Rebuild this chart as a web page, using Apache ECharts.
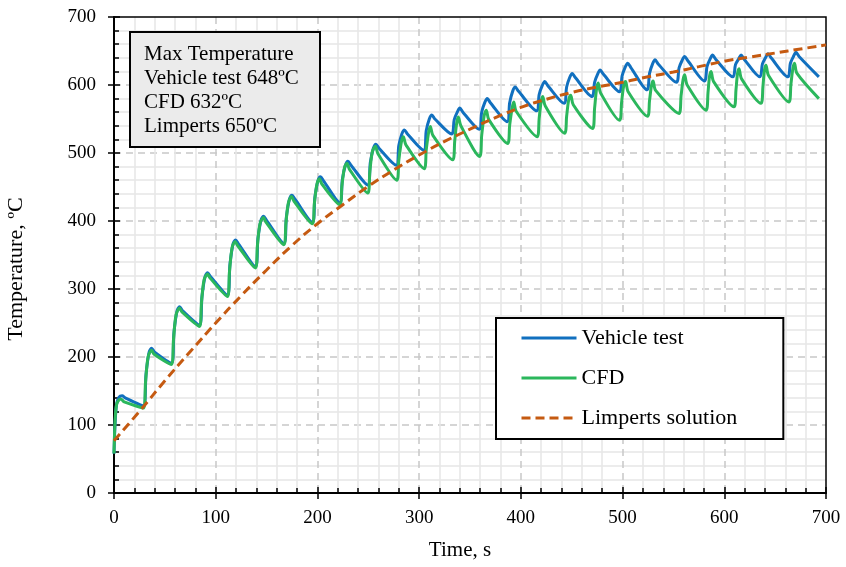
<!DOCTYPE html>
<html>
<head>
<meta charset="utf-8">
<script src="https://cdn.jsdelivr.net/npm/echarts@6/dist/echarts.min.js"></script>
<style>html,body{margin:0;padding:0;background:#fff;}#chart{width:846px;height:567px;}</style>
</head>
<body>
<div id="chart"></div>
<script>
// ---- Data ----
var vehicleTime = [0,1,2.5,5,8,11,
  29,31.5,34.5,37,40,
  56.5,59,62,64.5,67.5,
  84,86.5,89.5,92,95,
  111.5,114,117,119.5,122.5,
  139,141.5,144.5,147,150,
  167,169.5,172.5,175,178,
  195,197.5,200.5,203,206,
  222,224.5,227.5,230,233,
  249.5,252,255,257.5,260.5,
  277.5,280,283,285.5,288.5,
  304.5,307,310,312.5,315.5,
  332,334.5,337.5,340,343,
  359,361.5,364.5,367,370,
  386.5,389,392,394.5,397.5,
  415.5,418,421,423.5,426.5,
  442.5,445,448,450.5,453.5,
  470,472.5,475.5,478,481,
  497,499.5,502.5,505,508,
  524,526.5,529.5,532,535,
  553,555.5,558.5,561,564,
  580.5,583,586,588.5,591.5,
  608.5,611,614,616.5,619.5,
  635,637.5,640.5,643,646,
  662.5,665,668,670.5,673.5,
  693];
var vehicleTemp = [58,100,130,141,143,140,
  128,175,207,213,207,
  191,237,268,274,268,
  247,289,318,324,318,
  291,336,366,372,366,
  333,374,401,407,401,
  367,406,432,438,432,
  398,435,459,465,459,
  427,461,482,488,482,
  453,486,507,513,507,
  482,511,528,534,528,
  504,533,550,556,550,
  528,549,560,566,560,
  535,560,574,580,574,
  546,574,591,597,591,
  562,586,599,605,599,
  573,597,611,617,611,
  583,604,616,622,616,
  590,613,626,632,626,
  593,617,631,637,631,
  604,625,636,642,636,
  606,627,638,644,638,
  612,630,638,644,638,
  612,631,640,646,640,
  612,632,642,648,642,
  612];

var cfdTime = [0,1,2.5,5,7,10,
  29,31,33.5,37,39.5,
  56.5,58.5,61,64.5,67,
  84,86,88.5,92,94.5,
  111.5,113.5,116,119,121.5,
  139,141,143.5,147,149.5,
  167,169,171.5,174.5,177,
  195,197,199.5,202,204.5,
  222,224,226.5,229,231.5,
  249.5,251.5,254,257,259.5,
  278,280,282.5,284.5,287,
  305,307,309.5,311,313.5,
  333,335,337,338.5,341,
  359.5,361.5,364,366,368.5,
  387,389,391.5,393,395.5,
  416,418,420,421.5,424,
  443,445,447,449,451.5,
  470.5,472.5,474.5,476,478.5,
  497,499,501,503,505.5,
  524.5,526.5,528.5,530,532.5,
  555.5,557.5,559.5,561,563.5,
  582,584,585.5,587,589.5,
  609.5,611.5,613,614.5,617,
  636,638,639.5,641,643.5,
  663.5,665.5,667.5,669,671.5,
  693];
var cfdTemp = [58,105,130,137,138,134,
  125,163,200,210,204,
  189,226,262,272,266,
  245,280,313,322,316,
  289,325,360,370,364,
  331,364,396,405,398,
  365,397,427,436,429,
  396,426,454,462,454,
  424,451,478,485,476,
  441,472,502,510,499,
  460,489,516,524,512,
  477,505,532,539,526,
  490,518,545,553,540,
  495,526,555,563,549,
  514,541,567,575,561,
  524,551,576,583,569,
  529,554,578,585,571,
  536,566,595,603,588,
  548,574,598,605,590,
  554,577,600,606,592,
  558,584,608,615,600,
  563,589,613,620,605,
  568,593,617,624,609,
  573,598,622,629,614,
  575,601,625,632,617,
  580];

var limpertsTime = [0,25,50,75,100,125,150,175,200,225,250,275,300,325,350,375,400,425,450,475,500,525,550,575,600,625,650,675,700];
var limpertsTemp = [77,120,165,208,250,290,328,364,396,424,451,475,497,517,535,552,567,579,589,597,604,612,619,627,635,641,647,653,659];

var xTicks = [0,100,200,300,400,500,600,700];
var yTicks = [0,100,200,300,400,500,600,700];

var seriesNames = ['Vehicle test','CFD','Limperts solution'];
var noteLines = ['Max Temperature','Vehicle test 648\u00BAC','CFD 632\u00BAC','Limperts 650\u00BAC'];

function pairs(xs, ys){ var out=[]; for(var i=0;i<xs.length;i++){ out.push([xs[i], ys[i]]); } return out; }

var FONT = '"Liberation Serif", "Times New Roman", serif';
var chart = echarts.init(document.getElementById('chart'), null, {renderer:'canvas'});

var xMin = xTicks[0], xMax = xTicks[xTicks.length-1], xStep = xTicks[1]-xTicks[0];
var yMin = yTicks[0], yMax = yTicks[yTicks.length-1], yStep = yTicks[1]-yTicks[0];

var majorGrid = { show: true, showMinLine: false, showMaxLine: false, lineStyle: { color: '#c8c8c8', width: 1.5, type: [7,5] } };
var minorGrid = { show: true, lineStyle: { color: '#e6e6e6', width: 1.5 } };

var option = {
  animation: false,
  backgroundColor: '#fff',
  grid: { left: 114, right: 20, top: 17, bottom: 74, containLabel: false, outerBoundsMode: 'none',
          show: true, borderColor: '#000', borderWidth: 1.5, backgroundColor: 'transparent', z: 3 },
  xAxis: [{
    type: 'value', min: xMin, max: xMax, interval: xStep,
    name: 'Time, s', nameLocation: 'middle', nameGap: 47,
    nameTextStyle: { fontFamily: FONT, fontSize: 21, color: '#000', padding: [0, 20, 0, 0] },
    axisLine: { show: true, lineStyle: { color: '#000', width: 2 } },
    axisTick: { show: true, inside: true, length: 6, lineStyle: { color: '#000', width: 1.5 } },
    minorTick: { show: true, splitNumber: 5, length: 5, lineStyle: { color: '#000', width: 1.5 } },
    axisLabel: { fontFamily: FONT, fontSize: 19, color: '#000', margin: 16 },
    splitLine: majorGrid,
    minorSplitLine: minorGrid
  },{
    type: 'value', min: xMin, max: xMax, interval: xStep, position: 'bottom',
    axisLine: { show: false },
    axisTick: { show: true, inside: false, length: 6, lineStyle: { color: '#000', width: 1.5 } },
    axisLabel: { show: false }, splitLine: { show: false }
  }],
  yAxis: [{
    type: 'value', min: yMin, max: yMax, interval: yStep,
    name: 'Temperature, \u00BAC', nameLocation: 'middle', nameGap: 87, nameRotate: 90,
    nameTextStyle: { fontFamily: FONT, fontSize: 22, color: '#000', padding: [0, 28, 0, 0] },
    axisLine: { show: true, lineStyle: { color: '#000', width: 2 } },
    axisTick: { show: true, inside: true, length: 6, lineStyle: { color: '#000', width: 1.5 } },
    minorTick: { show: true, splitNumber: 5, length: 5, lineStyle: { color: '#000', width: 1.5 } },
    axisLabel: { fontFamily: FONT, fontSize: 19, color: '#000', margin: 18 },
    splitLine: majorGrid,
    minorSplitLine: minorGrid
  },{
    type: 'value', min: yMin, max: yMax, interval: yStep, position: 'left',
    axisLine: { show: false },
    axisTick: { show: true, inside: false, length: 6, lineStyle: { color: '#000', width: 1.5 } },
    axisLabel: { show: false }, splitLine: { show: false }
  }],
  legend: {
    data: seriesNames,
    orient: 'vertical',
    left: 496, top: 318, z: 50,
    padding: [9, 46, 10, 24],
    backgroundColor: '#fff', borderColor: '#000', borderWidth: 2,
    itemWidth: 55, itemHeight: 14, itemGap: 18,
    itemStyle: { opacity: 0 },
    lineStyle: { width: 3 },
    textStyle: { fontFamily: FONT, fontSize: 22, color: '#000', lineHeight: 22 }
  },
  graphic: [
    { type: 'rect', left: 129, top: 31, z: 100, shape: { x: 0, y: 0, width: 190, height: 115 },
      style: { fill: '#ebebeb', stroke: '#000', lineWidth: 2 } },
    { type: 'text', left: 144, top: 42, z: 101,
      style: { text: noteLines.join('\n'), font: '21px ' + FONT, fill: '#000', lineHeight: 24 } }
  ],
  series: [
    { name: seriesNames[0], type: 'line', data: pairs(vehicleTime, vehicleTemp), showSymbol: false, symbol: 'none', smooth: 0.3,
      lineStyle: { color: '#1170BF', width: 3 }, itemStyle: { color: '#1170BF' }, z: 10 },
    { name: seriesNames[1], type: 'line', data: pairs(cfdTime, cfdTemp), showSymbol: false, symbol: 'none', smooth: 0.3,
      lineStyle: { color: '#2BB75C', width: 3 }, itemStyle: { color: '#2BB75C' }, z: 11 },
    { name: seriesNames[2], type: 'line', data: pairs(limpertsTime, limpertsTemp), showSymbol: false, symbol: 'none', smooth: true,
      lineStyle: { color: '#C55A11', width: 3, type: [9,5] }, itemStyle: { color: '#C55A11' }, z: 12 }
  ]
};
chart.setOption(option);
</script>
</body>
</html>
